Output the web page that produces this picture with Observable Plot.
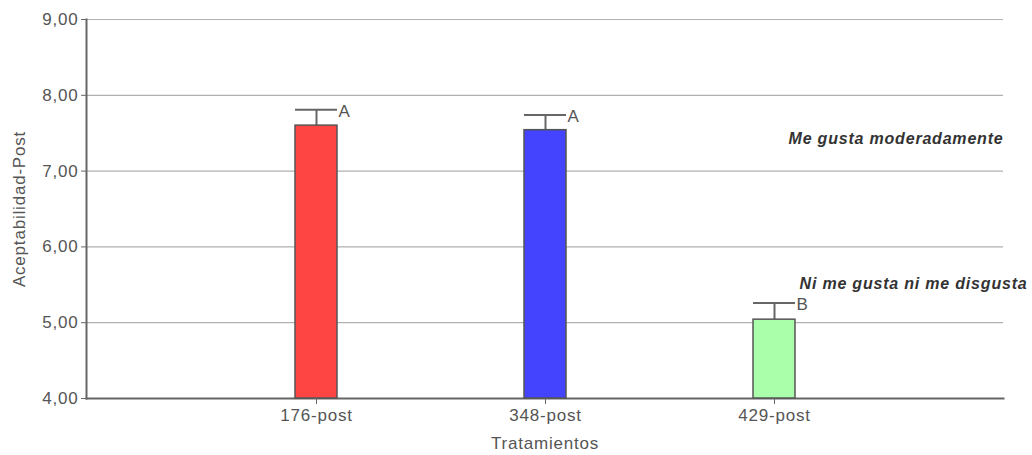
<!DOCTYPE html>
<html>
<head>
<meta charset="utf-8">
<script src="https://cdn.jsdelivr.net/npm/d3@7"></script>
<script src="https://cdn.jsdelivr.net/npm/@observablehq/plot@0.6"></script>
<style>
  body { margin: 0; background: #fff; }
  svg text { letter-spacing: 0.8px; }
  svg text.note { letter-spacing: 0.6px; }
</style>
</head>
<body>
<div id="chart"></div>
<script>
const categories = ["176-post", "348-post", "429-post"];
const means = [7.60, 7.54, 5.04];
const upper = [7.81, 7.74, 5.26];
const letters = ["A", "A", "B"];
const colors = ["#ff4444", "#4444ff", "#aaffaa"];
const yTicks = [4, 5, 6, 7, 8, 9];
const notes = ["Me gusta moderadamente", "Ni me gusta ni me disgusta"];
const noteY = [7.42, 5.51];

const data = categories.map((c, i) => ({cat: c, mean: means[i], upper: upper[i], letter: letters[i], color: colors[i]}));
const noteData = notes.map((t, i) => ({text: t, y: noteY[i]}));

const fmt = d => d.toFixed(2).replace(".", ",");

const chart = Plot.plot({
  width: 1032,
  height: 455,
  marginTop: 19,
  marginBottom: 57,
  marginLeft: 86,
  marginRight: 29,
  style: {fontFamily: "'Liberation Sans', Arial, sans-serif", fontSize: "17px", color: "#555", background: "#fff", overflow: "visible"},
  x: {domain: categories, paddingInner: 0.817, paddingOuter: 0.908},
  y: {domain: [4, 9]},
  marks: [
    Plot.gridY(yTicks.slice(1), {stroke: "#b0b0b0", strokeOpacity: 1, strokeWidth: 1.2}),
    Plot.frame({anchor: "left", stroke: "#666", strokeWidth: 2}),
    Plot.frame({anchor: "bottom", stroke: "#666", strokeWidth: 2}),
    Plot.ruleX(data, {x: "cat", y1: "mean", y2: "upper", stroke: "#666", strokeWidth: 2}),
    Plot.tickY(data, {x: "cat", y: "upper", stroke: "#666", strokeWidth: 2}),
    Plot.barY(data, {x: "cat", y1: 4, y2: "mean", fill: "color", stroke: "#555", strokeWidth: 1.5}),
    Plot.text(data, {x: "cat", y: "upper", text: "letter", textAnchor: "start", dx: 22, dy: 2, fill: "#555", fontSize: 17}),
    Plot.text(noteData.slice(0, 1), {frameAnchor: "right", y: "y", text: "text", textAnchor: "end", fontWeight: "bold", fontStyle: "italic", fill: "#333", fontSize: 16, className: "note"}),
    Plot.text(noteData.slice(1), {frameAnchor: "right", y: "y", text: "text", textAnchor: "end", dx: 24, fontWeight: "bold", fontStyle: "italic", fill: "#333", fontSize: 16, className: "note"}),
    Plot.axisY({ticks: yTicks, tickFormat: fmt, tickSize: 5, tickPadding: 3, stroke: "#666", color: "#555", fontSize: 17,
      label: "Aceptabilidad-Post", labelAnchor: "center", labelArrow: "none", labelOffset: 74}),
    Plot.axisX({tickSize: 6, tickPadding: 4, stroke: "#666", fontSize: 17,
      label: "Tratamientos", labelAnchor: "center", labelArrow: "none", labelOffset: 50})
  ]
});
document.getElementById("chart").appendChild(chart);
</script>
</body>
</html>
